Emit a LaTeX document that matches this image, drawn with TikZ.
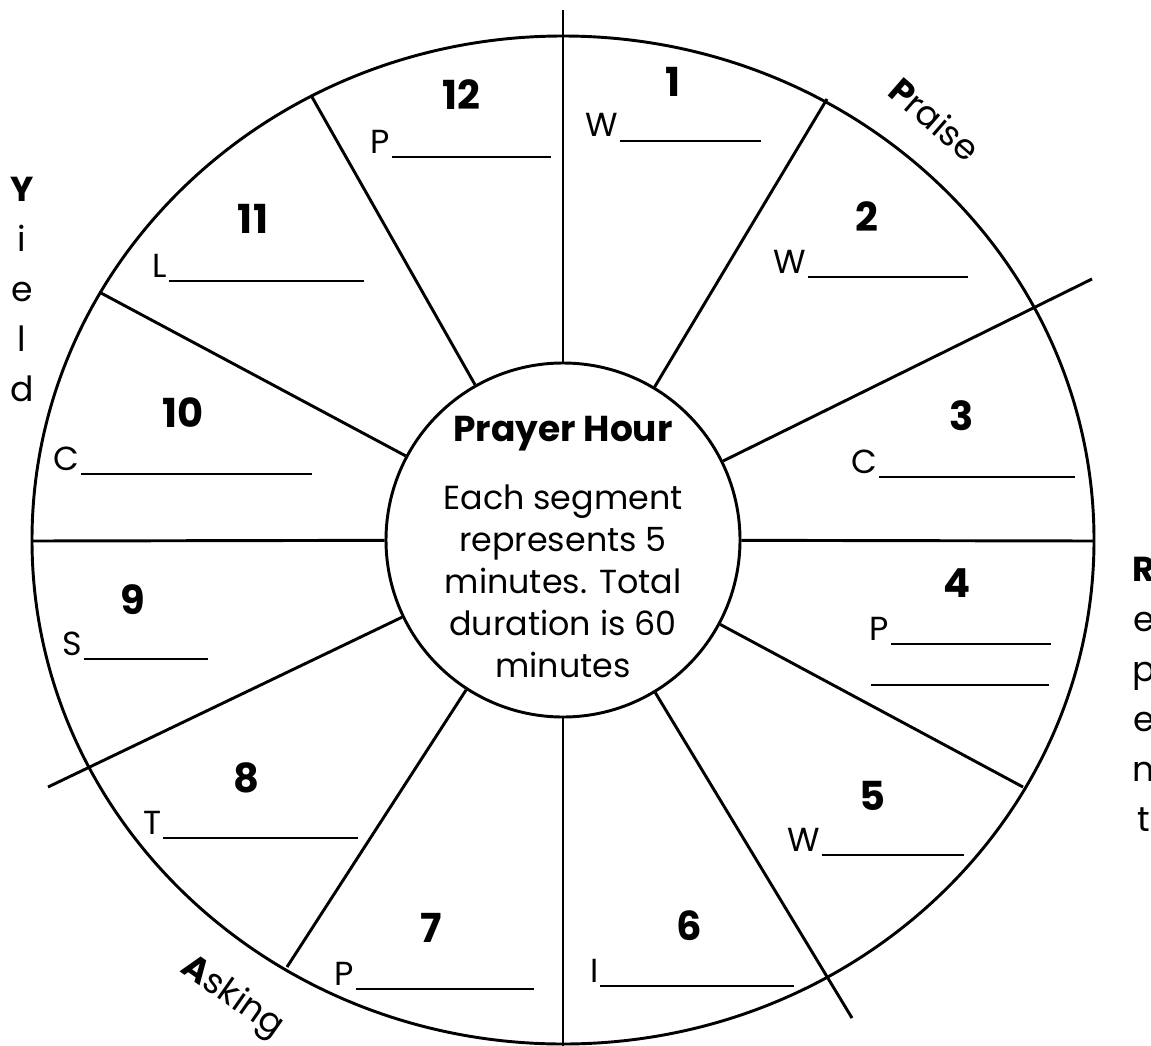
\documentclass[tikz,border=0pt]{standalone}
\usepackage{fontspec}
\setmainfont{Poppins}
\newcommand{\blank}[1]{\kern1.5pt\rule[-3.5pt]{\dimexpr 0.75pt*#1\relax}{1.1pt}}

\begin{document}
\begin{tikzpicture}[
    x=0.75pt, y=-0.75pt,
    wheel/.style={line width=2.2pt},
    hubring/.style={draw, circle, line width=2.2pt, minimum size=265.5pt, inner sep=0pt},
    num/.style={font=\fontsize{30}{36}\selectfont\bfseries, inner sep=0pt},
    fillin/.style={anchor=base west, inner sep=0pt, font=\fontsize{25}{30}\selectfont},
    blurb/.style={align=center, inner sep=0pt, font=\fontsize{25}{31.5}\selectfont},
    side/.style={align=center, anchor=north, inner sep=0pt, font=\fontsize{26}{37.5}\selectfont},
    arclabel/.style={inner sep=0pt, font=\fontsize{26}{30}\selectfont}
]
\useasboundingbox (0,0) rectangle (1151,1045);

% rim and hub
\draw[wheel] (563,540) ellipse [x radius=531, y radius=504];
\node[hubring] (hub) at (563,540) {};

% spoke ends on the rim
\coordinate (tip1) at (827,99);
\coordinate (tip2) at (1092,279);
\coordinate (tip3) at (1094,541);
\coordinate (tip4) at (1023,787);
\coordinate (tip5) at (852,1018);
\coordinate (tip6) at (563,1050);
\coordinate (tip7) at (287,967);
\coordinate (tip8) at (48,787);
\coordinate (tip9) at (32,541);
\coordinate (tip10) at (101,293);
\coordinate (tip11) at (312,97);
\coordinate (tip12) at (563,10);
\foreach \i in {1,...,12}
    \draw[wheel] (hub) -- (tip\i);

% centre text
\node[blurb] (blurb) at (563,547) {\textbf{\fontsize{27}{31.5}\selectfont Prayer Hour}\\[19.5pt]
    Each segment\\represents 5\\minutes. Total\\duration is 60\\minutes};

% segment numbers
\node[num] (n1) at (673,82) {1};
\node[num] (n2) at (867,217) {2};
\node[num] (n3) at (962,416) {3};
\node[num] (n4) at (957,583) {4};
\node[num] (n5) at (872,796) {5};
\node[num] (n6) at (689,926) {6};
\node[num] (n7) at (431,928) {7};
\node[num] (n8) at (246,778) {8};
\node[num] (n9) at (133,600) {9};
\node[num] (n10) at (183,413) {10};
\node[num] (n11) at (253,219) {11};
\node[num] (n12) at (461,95) {12};

% fill-in lines
\node[fillin] (l1) at (585,137) {W\blank{141}};
\node[fillin] (l2) at (773,273) {W\blank{160}};
\node[fillin] (l3) at (851,473) {C\blank{196}};
\node[fillin] (l4) at (869,640) {P\blank{160}};
\node[fillin] (l4b) at (869,681) {\blank{178}};
\node[fillin] (l5) at (787,851) {W\blank{142}};
\node[fillin] (l6) at (590,982) {I\blank{194}};
\node[fillin] (l7) at (334,985) {P\blank{178}};
\node[fillin] (l8) at (143,834) {T\blank{195}};
\node[fillin] (l9) at (62,655) {S\blank{124}};
\node[fillin] (l10) at (53,470) {C\blank{231}};
\node[fillin] (l11) at (152,277) {L\blank{195}};
\node[fillin] (l12) at (370,153) {P\blank{159}};

% words round the rim
\node[side] (yield) at (22,177) {\textbf{Y}\\i\\e\\l\\d};
\node[side] (repent) at (1144,557) {\textbf{R}\\e\\p\\e\\n\\t};
\node[arclabel, rotate=-41] (praise) at (935,119) {\textbf{P}raise};
\node[arclabel, rotate=-35] (asking) at (232,998) {\textbf{A}sking};
\end{tikzpicture}
\end{document}
